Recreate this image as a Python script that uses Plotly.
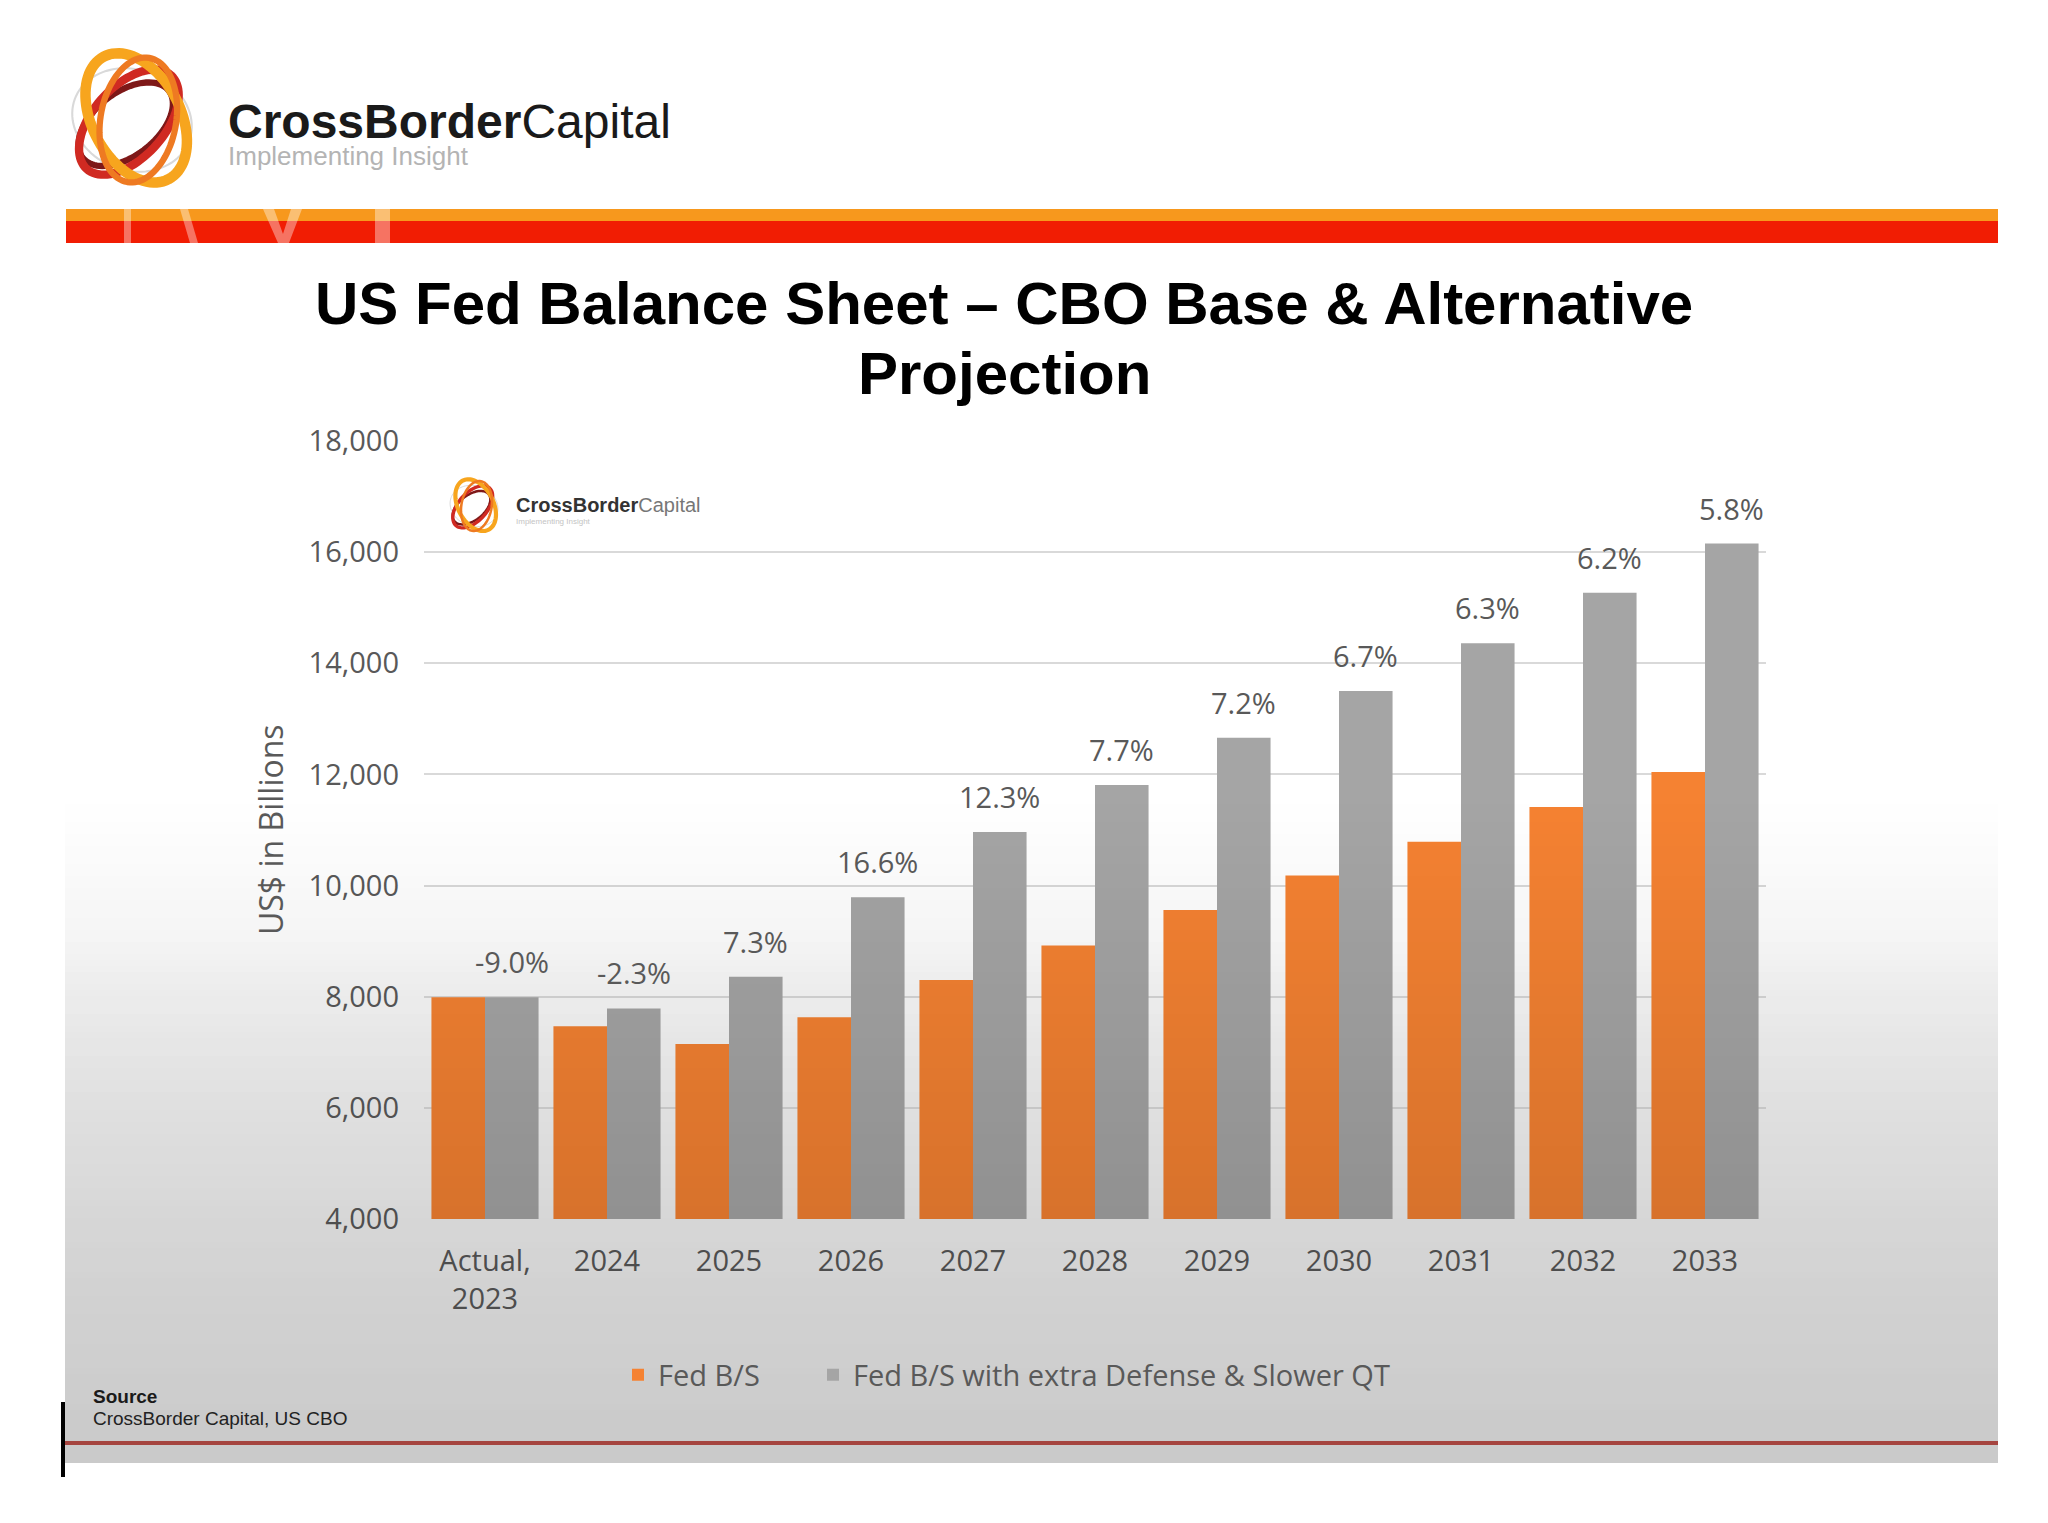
import numpy as np
import plotly.graph_objects as go

W, H = 2048, 1523

# ---------------- data ----------------
categories = ["Actual,<br>2023", "2024", "2025", "2026", "2027", "2028",
              "2029", "2030", "2031", "2032", "2033"]
fed_bs = [7990, 7470, 7150, 7630, 8300, 8920, 9560, 10180, 10790, 11415, 12045]
fed_bs_alt = [7990, 7790, 8360, 9790, 10965, 11810, 12660, 13500, 14360, 15270, 16155]
growth_labels = ["-9.0%", "-2.3%", "7.3%", "16.6%", "12.3%", "7.7%",
                 "7.2%", "6.7%", "6.3%", "6.2%", "5.8%"]
y_ticks = [4000, 6000, 8000, 10000, 12000, 14000, 16000, 18000]
series_names = ["Fed B/S", "Fed B/S with extra Defense & Slower QT"]

# ---------------- layout constants (pixels) ----------------
PL, PR, PT, PB = 424, 1766, 441, 1219
BARGAP = 0.122
ORANGE = "#F58232"
GREY = "#A5A5A5"
TXT = "#595959"
FONT = "Open Sans"


def px(x):
    return x / W


def py(y):
    return 1 - y / H


fig = go.Figure()
fig.add_trace(go.Bar(x=categories, y=fed_bs, name=series_names[0], legend="legend",
                     marker=dict(color=ORANGE, line=dict(width=0))))
fig.add_trace(go.Bar(x=categories, y=fed_bs_alt, name=series_names[1], legend="legend2",
                     marker=dict(color=GREY, line=dict(width=0))))

shapes = []
annotations = []

# ---------- background gradient (below) and shading overlay (above) ----------
bg_pts = [(0, 255), (850, 255), (925, 247), (980, 238), (1050, 230), (1142, 221),
          (1219, 215), (1300, 210), (1413, 204), (1463, 202)]
ov_pts = [(0, 0.0), (800, 0.0), (1219, 0.12), (1463, 0.15)]
ys_bg = [p[0] for p in bg_pts]
vs_bg = [p[1] for p in bg_pts]
ys_ov = [p[0] for p in ov_pts]
vs_ov = [p[1] for p in ov_pts]
step = 6
for y0 in range(780, 1463, step):
    y1 = min(y0 + step, 1463)
    ym = (y0 + y1) / 2
    target = np.interp(ym, ys_bg, vs_bg)
    a = np.interp(ym, ys_ov, vs_ov)
    c = int(round(min(255, target / (1 - a))))
    shapes.append(dict(type="rect", xref="paper", yref="paper", layer="below",
                       x0=px(65), x1=px(1998), y0=py(y1), y1=py(y0),
                       fillcolor=f"rgb({c},{c},{c})", line=dict(width=0)))
    if a > 0:
        shapes.append(dict(type="rect", xref="paper", yref="paper", layer="above",
                           x0=px(65), x1=px(1998), y0=py(y1), y1=py(y0),
                           fillcolor=f"rgba(0,0,0,{a:.4f})", line=dict(width=0)))

# ---------- header band ----------
shapes.append(dict(type="rect", xref="paper", yref="paper", layer="below",
                   x0=px(66), x1=px(1998), y0=py(221), y1=py(209),
                   fillcolor="#F7981D", line=dict(width=0)))
shapes.append(dict(type="rect", xref="paper", yref="paper", layer="below",
                   x0=px(66), x1=px(1998), y0=py(243), y1=py(221),
                   fillcolor="#F11D03", line=dict(width=0)))


def poly(points):
    return "M" + " L".join(f"{px(x):.5f},{py(y):.5f}" for x, y in points) + " Z"


ghosts = [
    [(124, 209), (131, 209), (131, 243), (124, 243)],
    [(180, 209), (188, 209), (198, 243), (190, 243)],
    [(263, 209), (274, 209), (283, 234), (291, 209), (302, 209), (289, 243), (278, 243)],
    [(375, 209), (390, 209), (390, 243), (375, 243)],
]
for g in ghosts:
    shapes.append(dict(type="path", xref="paper", yref="paper", layer="below",
                       path=poly(g), fillcolor="rgba(255,255,255,0.38)",
                       line=dict(width=0)))

# bottom rule and left black mark
shapes.append(dict(type="line", xref="paper", yref="paper", layer="above",
                   x0=px(65), x1=px(1998), y0=py(1443), y1=py(1443),
                   line=dict(color="#A5443F", width=4)))
shapes.append(dict(type="rect", xref="paper", yref="paper", layer="above",
                   x0=px(61), x1=px(65), y0=py(1477), y1=py(1402),
                   fillcolor="#000000", line=dict(width=0)))


# ---------- logo swirls ----------
def ellipse_path(cx, cy, rx, ry, ang, n=90):
    t = np.linspace(0, 2 * np.pi, n, endpoint=False)
    a = np.deg2rad(ang)
    x = cx + rx * np.cos(t) * np.cos(a) - ry * np.sin(t) * np.sin(a)
    y = cy + rx * np.cos(t) * np.sin(a) + ry * np.sin(t) * np.cos(a)
    return poly(list(zip(x, y)))


def logo(cx, cy, s):
    rings = [
        (0, 0, 58, 48, 20, "#D9D9D9", 2),
        (-6, 4, 52, 30, -38, "#7E1818", 6),
        (-3, 2, 60, 34, -48, "#D02A22", 8),
        (4, -2, 66, 42, 62, "#F7A51E", 10),
        (6, 0, 60, 36, 100, "#EE7A22", 6),
    ]
    for dx, dy, rx, ry, ang, col, lw in rings:
        shapes.append(dict(type="path", xref="paper", yref="paper", layer="above",
                           path=ellipse_path(cx + dx * s, cy + dy * s, rx * s, ry * s, ang),
                           line=dict(color=col, width=max(1, lw * s)),
                           fillcolor="rgba(0,0,0,0)"))


logo(132, 120, 1.05)
logo(474, 506, 0.42)

# ---------- texts ----------
# header wordmark + tagline as one two-line text
annotations.append(dict(xref="paper", yref="paper", x=px(226), y=py(93),
                        xanchor="left", yanchor="top", showarrow=False, align="left",
                        text=("<span style='font-size:48px;color:#1A1A1A'><b>CrossBorder</b>Capital</span>"
                              "<br><span style='font-size:26px;color:#B4B4B4'>Implementing Insight</span>"),
                        font=dict(family="Liberation Sans", size=21, color="#1A1A1A")))
# in-chart wordmark
annotations.append(dict(xref="paper", yref="paper", x=px(514), y=py(492),
                        xanchor="left", yanchor="top", showarrow=False, align="left",
                        text=("<span style='font-size:20px'><b>CrossBorder</b>"
                              "<span style='color:#777'>Capital</span></span>"
                              "<br><span style='font-size:8px;color:#C4C4C4'>Implementing Insight</span>"),
                        font=dict(family="Liberation Sans", size=9, color="#333333")))

annotations.append(dict(xref="paper", yref="paper", x=px(1004), y=py(303),
                        xanchor="center", yanchor="middle", showarrow=False,
                        text="<b>US Fed Balance Sheet – CBO Base & Alternative</b>",
                        font=dict(family="Liberation Sans", size=60, color="#000000")))
annotations.append(dict(xref="paper", yref="paper", x=px(1004), y=py(374),
                        xanchor="center", yanchor="middle", showarrow=False,
                        text="<b>Projection</b>",
                        font=dict(family="Liberation Sans", size=60, color="#000000")))

annotations.append(dict(xref="paper", yref="paper", x=px(270), y=py(830),
                        xanchor="center", yanchor="middle", showarrow=False,
                        textangle=-90, text="US$ in Billions",
                        font=dict(family=FONT, size=32, color=TXT)))

annotations.append(dict(xref="paper", yref="paper", x=px(91), y=py(1396),
                        xanchor="left", yanchor="middle", showarrow=False,
                        text="<b>Source</b>",
                        font=dict(family="Liberation Sans", size=19, color="#1A1A1A")))
annotations.append(dict(xref="paper", yref="paper", x=px(91), y=py(1418),
                        xanchor="left", yanchor="middle", showarrow=False,
                        text="CrossBorder Capital, US CBO",
                        font=dict(family="Liberation Sans", size=19, color="#222222")))

# growth labels above the grey bars (x given as category index)
cat_w = (PR - PL) / len(categories)
bar_w = cat_w * (1 - BARGAP) / 2
for i, (v, t) in enumerate(zip(fed_bs_alt, growth_labels)):
    annotations.append(dict(xref="x", yref="y", x=i, y=v, xshift=bar_w / 2, yshift=14,
                            xanchor="center", yanchor="bottom", showarrow=False,
                            text=t, font=dict(family=FONT, size=29, color=TXT)))

legend_style = dict(orientation="h", xanchor="left", yanchor="middle", y=py(1375),
                    font=dict(family=FONT, size=29, color=TXT),
                    bgcolor="rgba(0,0,0,0)")

fig.update_layout(
    width=W, height=H,
    margin=dict(l=0, r=0, t=0, b=0, autoexpand=False),
    paper_bgcolor="#FFFFFF",
    plot_bgcolor="rgba(0,0,0,0)",
    barmode="group", bargap=BARGAP, bargroupgap=0,
    showlegend=True,
    legend=dict(x=px(618), **legend_style),
    legend2=dict(x=px(813), **legend_style),
    xaxis=dict(domain=[px(PL), px(PR)], type="category", showgrid=False,
               range=[-0.5, len(categories) - 0.5], automargin=False,
               showline=False, zeroline=False, ticks="", ticklabelstandoff=22,
               tickfont=dict(family=FONT, size=29, color=TXT)),
    yaxis=dict(domain=[py(PB), py(PT)], range=[y_ticks[0], y_ticks[-1]],
               tickvals=y_ticks, tickformat=",", showgrid=True, automargin=False,
               gridcolor="#D9D9D9", gridwidth=2, zeroline=False, showline=False,
               ticks="", ticklabelstandoff=24,
               tickfont=dict(family=FONT, size=29, color=TXT)),
    shapes=shapes,
    annotations=annotations,
)

fig.write_html("out.html")
